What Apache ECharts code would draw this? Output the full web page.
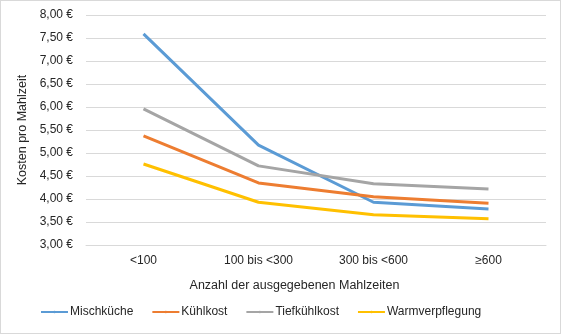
<!DOCTYPE html>
<html>
<head>
<meta charset="utf-8">
<script src="https://cdn.jsdelivr.net/npm/echarts@6/dist/echarts.min.js"></script>
<style>
  html, body { margin: 0; padding: 0; background: #fff; }
  #chart { width: 559px; height: 332px; border: 1px solid #d9d9d9; }
</style>
</head>
<body>
<div id="chart"></div>
<script>
// Kategorien (Anzahl der ausgegebenen Mahlzeiten)
var categories = ['<100', '100 bis <300', '300 bis <600', '≥600'];
// Kosten pro Mahlzeit in Euro
var mischkueche = [7.59, 5.17, 3.93, 3.78];
var kuehlkost = [5.37, 4.35, 4.05, 3.91];
var tiefkuehlkost = [5.96, 4.72, 4.33, 4.22];
var warmverpflegung = [4.76, 3.93, 3.66, 3.57];

var font = 'Liberation Sans, Arial, sans-serif';
var textColor = '#262626';

function lineSeries(name, data, color) {
  return {
    name: name,
    type: 'line',
    data: data,
    symbol: 'none',
    lineStyle: { width: 3, color: color },
    itemStyle: { color: color }
  };
}

var chart = echarts.init(document.getElementById('chart'));
var option = {
  animation: false,
  textStyle: { fontFamily: font },
  grid: { left: 85, right: 14, top: 14, bottom: 88 },
  xAxis: {
    type: 'category',
    data: categories,
    name: 'Anzahl der ausgegebenen Mahlzeiten',
    nameLocation: 'middle',
    nameGap: 34,
    nameTextStyle: { color: textColor, fontSize: 12.5, fontFamily: font, padding: [0, 43, 0, 0] },
    axisLine: { lineStyle: { color: '#d9d9d9', width: 1 } },
    axisTick: { show: false },
    axisLabel: { color: textColor, fontSize: 12, fontFamily: font, margin: 10 }
  },
  yAxis: {
    type: 'value',
    min: 3,
    max: 8,
    interval: 0.5,
    name: 'Kosten pro Mahlzeit',
    nameLocation: 'middle',
    nameGap: 51,
    nameTextStyle: { color: textColor, fontSize: 12.5, fontFamily: font },
    axisLine: { show: false },
    axisTick: { show: false },
    splitLine: { lineStyle: { color: '#d9d9d9', width: 1 } },
    axisLabel: {
      color: textColor, fontSize: 12, fontFamily: font, margin: 13,
      formatter: function (v) { return v.toFixed(2).replace('.', ',') + ' €'; }
    }
  },
  legend: {
    bottom: 10,
    left: 34,
    itemWidth: 27,
    itemHeight: 3,
    itemGap: 18,
    textStyle: { color: textColor, fontSize: 12, fontFamily: font, padding: [0, 0, 0, -3] },
    data: ['Mischküche', 'Kühlkost', 'Tiefkühlkost', 'Warmverpflegung']
  },
  series: [
    lineSeries('Mischküche', mischkueche, '#5b9bd5'),
    lineSeries('Kühlkost', kuehlkost, '#ed7d31'),
    lineSeries('Tiefkühlkost', tiefkuehlkost, '#a5a5a5'),
    lineSeries('Warmverpflegung', warmverpflegung, '#ffc000')
  ]
};
chart.setOption(option);
</script>
</body>
</html>
